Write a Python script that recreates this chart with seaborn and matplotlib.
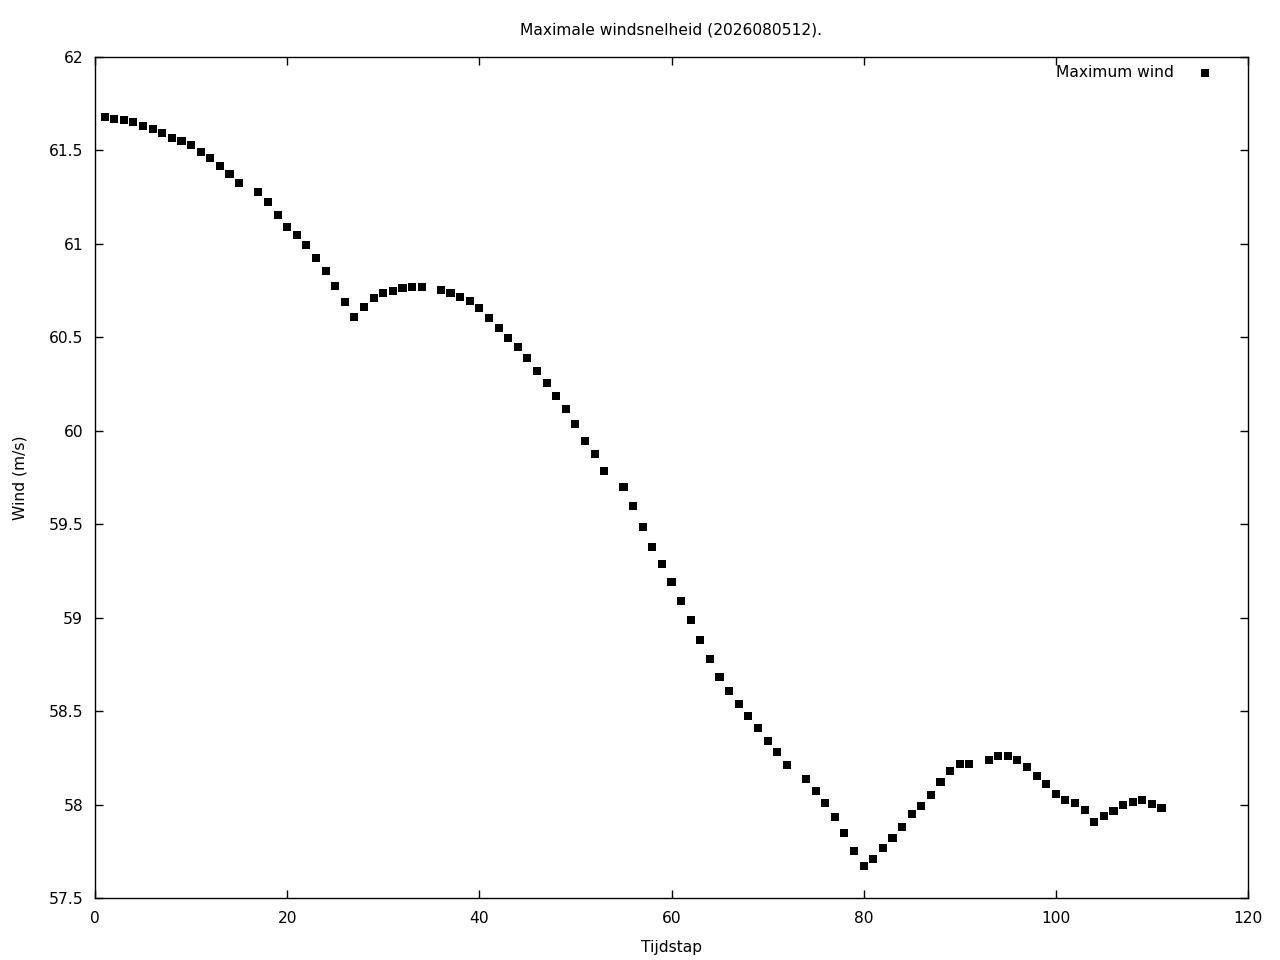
import numpy as np
import matplotlib
matplotlib.use("Agg")
import matplotlib.pyplot as plt
import seaborn as sns
import pandas as pd

# Tijdstappen (enkele stappen ontbreken in de reeks)
tijdstap = [1, 2, 3, 4, 5, 6, 7, 8, 9, 10, 11, 12, 13, 14, 15, 17, 18, 19, 20,
            21, 22, 23, 24, 25, 26, 27, 28, 29, 30, 31, 32, 33, 34, 36, 37, 38,
            39, 40, 41, 42, 43, 44, 45, 46, 47, 48, 49, 50, 51, 52, 53, 55, 56,
            57, 58, 59, 60, 61, 62, 63, 64, 65, 66, 67, 68, 69, 70, 71, 72, 74,
            75, 76, 77, 78, 79, 80, 81, 82, 83, 84, 85, 86, 87, 88, 89, 90, 91,
            93, 94, 95, 96, 97, 98, 99, 100, 101, 102, 103, 104, 105, 106, 107,
            108, 109, 110, 111]

wind = [61.679, 61.668, 61.663, 61.652, 61.631, 61.615, 61.593, 61.567, 61.551,
        61.529, 61.492, 61.460, 61.417, 61.374, 61.326, 61.278, 61.224, 61.155,
        61.090, 61.048, 60.994, 60.925, 60.855, 60.775, 60.689, 60.609, 60.662,
        60.711, 60.737, 60.748, 60.764, 60.769, 60.769, 60.753, 60.737, 60.716,
        60.694, 60.657, 60.604, 60.550, 60.497, 60.448, 60.390, 60.320, 60.256,
        60.186, 60.117, 60.036, 59.945, 59.876, 59.785, 59.699, 59.598, 59.485,
        59.378, 59.287, 59.191, 59.089, 58.988, 58.881, 58.779, 58.683, 58.608,
        58.538, 58.474, 58.410, 58.340, 58.281, 58.212, 58.137, 58.073, 58.009,
        57.934, 57.848, 57.752, 57.672, 57.709, 57.768, 57.821, 57.880, 57.950,
        57.993, 58.051, 58.121, 58.180, 58.217, 58.217, 58.239, 58.260, 58.260,
        58.239, 58.201, 58.153, 58.110, 58.057, 58.025, 58.009, 57.971, 57.907,
        57.939, 57.966, 57.998, 58.014, 58.025, 58.003, 57.982]

x_ticks = [0, 20, 40, 60, 80, 100, 120]
y_ticks = [57.5, 58, 58.5, 59, 59.5, 60, 60.5, 61, 61.5, 62]
y_labels = ["57.5", "58", "58.5", "59", "59.5", "60", "60.5", "61", "61.5", "62"]

df = pd.DataFrame({"Tijdstap": tijdstap, "Wind": wind})

sns.set_style("ticks")
plt.rcParams['font.family'] = ['DejaVu Sans']
fs = 11.2
plt.rcParams['font.size'] = fs
for k in ['text.color', 'axes.labelcolor', 'xtick.color', 'ytick.color',
          'xtick.labelcolor', 'ytick.labelcolor', 'axes.edgecolor']:
    plt.rcParams[k] = 'black'

fig = plt.figure(figsize=(12.8, 9.6), dpi=100)
ax = fig.add_axes([95 / 1280, 1 - 898 / 960, (1248 - 95) / 1280, (898 - 57) / 960])

sns.scatterplot(data=df, x="Tijdstap", y="Wind", ax=ax, marker="s", s=34,
                color="black", edgecolor="none", linewidth=0, label="Maximum wind")

ax.set_xlim(0, 120)
ax.set_ylim(57.5, 62)
ax.set_xticks(x_ticks)
ax.set_xticklabels([str(t) for t in x_ticks])
ax.set_yticks(y_ticks)
ax.set_yticklabels(y_labels)
ax.tick_params(direction="in", length=6, width=1, top=True, right=True,
               colors="black", labelsize=fs)
ax.tick_params(axis="y", pad=8.5)
ax.tick_params(axis="x", pad=9.5)
for sp in ax.spines.values():
    sp.set_linewidth(1)
    sp.set_color("black")

ax.set_xlabel("Tijdstap", fontsize=fs, labelpad=10)
ax.set_ylabel("Wind (m/s)", fontsize=fs, labelpad=15)
ax.set_title("Maximale windsnelheid (2026080512).", fontsize=fs, pad=16.5)

ax.legend(loc="upper right", bbox_to_anchor=((1221 - 95) / 1153, (898 - 65) / 841),
          frameon=False, markerfirst=False, fontsize=fs,
          handletextpad=1.0, borderaxespad=0, borderpad=0)

fig.savefig("out.png", dpi=100)
